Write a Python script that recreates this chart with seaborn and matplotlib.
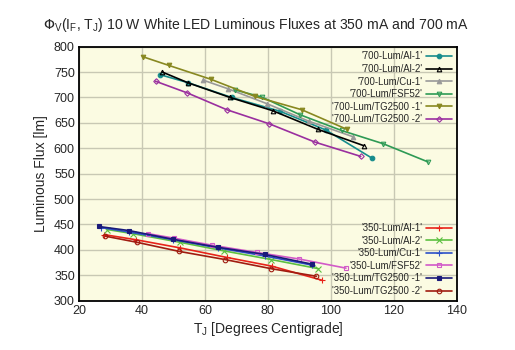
import matplotlib
matplotlib.use("Agg")
import matplotlib.pyplot as plt
import seaborn as sns

sns.set_style("ticks")
plt.rcParams['font.family'] = ['Liberation Sans', 'DejaVu Sans']
fontsize = 9

# ---------------- data ----------------
labels_700 = ["'700-Lum/Al-1'", "'700-Lum/Al-2'", "'700-Lum/Cu-1'",
              "'700-Lum/FSF52'", "'700-Lum/TG2500 -1'", "'700-Lum/TG2500 -2'"]
x_700 = [
    [45.7, 54.7, 68.5, 83.8, 98.4, 113.2],
    [46.5, 54.6, 68.0, 81.5, 96.0, 110.5],
    [59.5, 67.4, 79.6, 93.1, 106.9],
    [69.5, 78.0, 90.2, 103.4, 116.6, 130.9],
    [40.4, 48.6, 61.8, 75.9, 90.7, 105.2],
    [44.3, 54.4, 66.9, 80.5, 95.0, 109.5],
]
y_700 = [
    [745, 729, 700, 673, 636, 580],
    [750, 729, 700, 674, 637, 605],
    [734, 717, 688, 653, 623],
    [715, 701, 666, 635, 609, 573],
    [780, 763, 736, 702, 676, 637],
    [732, 709, 676, 648, 612, 584],
]

labels_350 = ["'350-Lum/Al-1'", "'350-Lum/Al-2'", "'350-Lum/Cu-1'",
              "'350-Lum/FSF52'", "'350-Lum/TG2500 -1'", "'350-Lum/TG2500 -2'"]
x_350 = [
    [28.0, 38.0, 52.0, 67.0, 81.2, 97.3],
    [29.0, 37.0, 52.0, 66.0, 81.0, 96.0],
    [27.0, 36.0, 50.0, 64.0, 79.0, 94.0],
    [41.8, 50.2, 62.4, 76.4, 89.9, 104.8],
    [26.3, 35.9, 49.7, 64.2, 79.0, 93.9],
    [28.3, 38.3, 51.8, 66.3, 81.0, 95.4],
]
y_350 = [
    [430, 420, 404, 385, 368, 340],
    [440, 432, 415, 398, 381, 363],
    [444, 435, 420, 404, 388, 370],
    [432, 423, 409, 395, 382, 364],
    [446, 438, 421, 405, 391, 372],
    [427, 415, 397, 381, 363, 348],
]

# style per series: (color, marker, filled)
style_700 = [('#168c8c', 'o', True), ('#000000', '^', False), ('#999999', '^', True),
             ('#2e9a55', 'v', False), ('#888820', 'v', True), ('#9a2f9f', 'D', False)]
style_350 = [('#e8231a', '+', True), ('#5cc040', 'x', True), ('#2c50c8', '+', True),
             ('#d25ac8', 's', False), ('#1a1a7a', 's', True), ('#a01c10', 'o', False)]

fig = plt.figure(figsize=(5.15, 3.5), dpi=100)
ax = fig.add_axes([0.1534, 0.141, 0.7336, 0.7256])
ax.set_facecolor('#fbfbe2')


def draw(xs, ys, labels, styles):
    handles = []
    for x, y, lab, (c, m, filled) in zip(xs, ys, labels, styles):
        ms = 3.3
        if m == 'D':
            ms = 2.8
        if m in ('+', 'x'):
            ms = 4
        sns.lineplot(x=x, y=y, ax=ax, color=c, marker=m, markersize=ms,
                     markerfacecolor=c if filled else 'none', markeredgecolor=c,
                     markeredgewidth=0.8, linewidth=1.2, label=lab, legend=False)
        handles.append(ax.get_lines()[-1])
    return handles


h700 = draw(x_700, y_700, labels_700, style_700)
h350 = draw(x_350, y_350, labels_350, style_350)

leg_kw = dict(frameon=False, markerfirst=False, fontsize=6.9, handlelength=2.7,
              labelspacing=0.27, borderaxespad=0.2, borderpad=0.3, handletextpad=0.4)
leg1 = ax.legend(h700, labels_700, loc='upper right', **leg_kw)
ax.add_artist(leg1)
ax.legend(h350, labels_350, loc='lower right', **leg_kw)

ax.set_xlim(20, 140)
ax.set_ylim(300, 800)
ax.set_xticks(range(20, 141, 20))
ax.set_yticks(range(300, 801, 50))
ax.grid(True, color='#c8c8b4', linewidth=1.0)
ax.tick_params(labelsize=fontsize, length=0, pad=3)
for spine in ax.spines.values():
    spine.set_visible(True)
    spine.set_edgecolor('black')
    spine.set_linewidth(1.3)

ax.set_xlabel(r'T$_\mathregular{J}$ [Degrees Centigrade]', fontsize=10, labelpad=2)
ax.set_ylabel('Luminous Flux [lm]', fontsize=10, labelpad=4)
fig.text(0.497, 0.928, r'$\Phi_\mathregular{V}$(I$_\mathregular{F}$, T$_\mathregular{J}$) 10 W White LED Luminous Fluxes at 350 mA and 700 mA',
         ha='center', va='center', fontsize=10.1)

fig.savefig('out.png', dpi=100)
